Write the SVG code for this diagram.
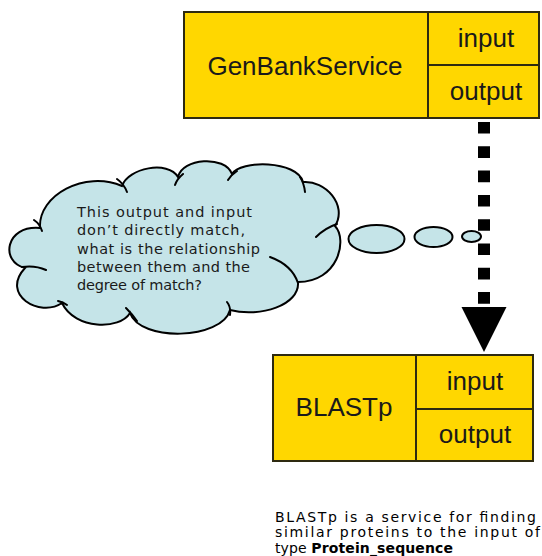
<svg xmlns="http://www.w3.org/2000/svg" width="542" height="556" viewBox="0 0 542 556">
<style>
.box{fill:#ffd700;stroke:#2e2a10;stroke-width:2}
.div{stroke:#2e2a10;stroke-width:2;fill:none}
.lbl{font-family:"Liberation Sans",Arial,sans-serif;font-size:26px;fill:#1a1a1a;text-anchor:middle}
.cloud{fill:#c5e4e8;stroke:#000;stroke-width:2}
.crease{fill:none;stroke:#000;stroke-width:2;stroke-linecap:round}
.ctext{font-family:"DejaVu Sans",Verdana,sans-serif;font-size:14.5px;fill:#1a1a1a}
.note{font-family:"DejaVu Sans",Verdana,sans-serif;font-size:14px;fill:#000}
</style>
<defs>
<marker id="head" markerUnits="userSpaceOnUse" viewBox="0 -23 46 46" refX="0" refY="0" markerWidth="46" markerHeight="46" orient="auto">
<path d="M0,-22.5 L45,0 L0,22.5 Z" fill="#000"/>
</marker>
</defs>
<g id="connectors">
<line x1="484" y1="122" x2="484" y2="307" stroke="#000" stroke-width="12" stroke-dasharray="11.6 12.7" marker-end="url(#head)"/>
</g>
<g id="genbank">
<rect class="box" x="184" y="12" width="355" height="106"/>
<path class="div" d="M428,12 V118 M428,65 H539"/>
<text class="lbl" x="305" y="75">GenBankService</text>
<text class="lbl" x="486" y="47">input</text>
<text class="lbl" x="486" y="100">output</text>
</g>
<g id="blastp">
<rect class="box" x="273" y="355" width="260" height="106"/>
<path class="div" d="M416,355 V461 M416,409 H533"/>
<text class="lbl" x="344" y="416">BLASTp</text>
<text class="lbl" x="475" y="390">input</text>
<text class="lbl" x="475" y="443">output</text>
</g>
<g id="thought">
<path class="cloud" d="M40,228 C38,195 85,170 122,186 C128,168 168,160 178,177 C182,158 225,155 232,174 C240,160 297,160 303,182 C325,180 348,205 335,226 C348,240 338,282 298,282 C300,305 260,318 230,310 C222,340 140,342 130,313 C120,330 75,330 62,303 C40,318 0,295 25,268 C0,262 5,225 40,228 Z"/>
<path class="crease" d="M22,267 Q35,265 46,270 M117,179 Q124,184 127,192 M175,185 Q177,179 183,174 M228,180 Q231,175 237,171 M300,177 Q304,183 305,192 M316,237 Q325,228 337,224 M270,257 Q292,265 298,283 M227,302 Q231,307 230,315 M126,308 Q132,314 137,321 M58,301 Q63,302 67,305 M34,220 Q40,224 42,231"/>
<text class="ctext" x="77" y="217" textLength="175" lengthAdjust="spacing">This output and input</text>
<text class="ctext" x="77" y="235" textLength="168" lengthAdjust="spacing">don’t directly match,</text>
<text class="ctext" x="77" y="253.5" textLength="183" lengthAdjust="spacing">what is the relationship</text>
<text class="ctext" x="77" y="272" textLength="173" lengthAdjust="spacing">between them and the</text>
<text class="ctext" x="77" y="290" textLength="125" lengthAdjust="spacing">degree of match?</text>
<ellipse class="cloud" cx="376.5" cy="239" rx="28" ry="14"/>
<ellipse class="cloud" cx="433.5" cy="237" rx="19" ry="10"/>
<ellipse class="cloud" cx="471.5" cy="236.5" rx="9.5" ry="5.5"/>
</g>
<g id="note">
<text class="note" x="275" y="521.5" textLength="261" lengthAdjust="spacing">BLASTp is a service for finding</text>
<text class="note" x="275" y="537" textLength="265" lengthAdjust="spacing">similar proteins to the input of</text>
<text class="note" x="275" y="552.5" textLength="178" lengthAdjust="spacing">type <tspan font-weight="bold">Protein_sequence</tspan></text>
</g>
</svg>
